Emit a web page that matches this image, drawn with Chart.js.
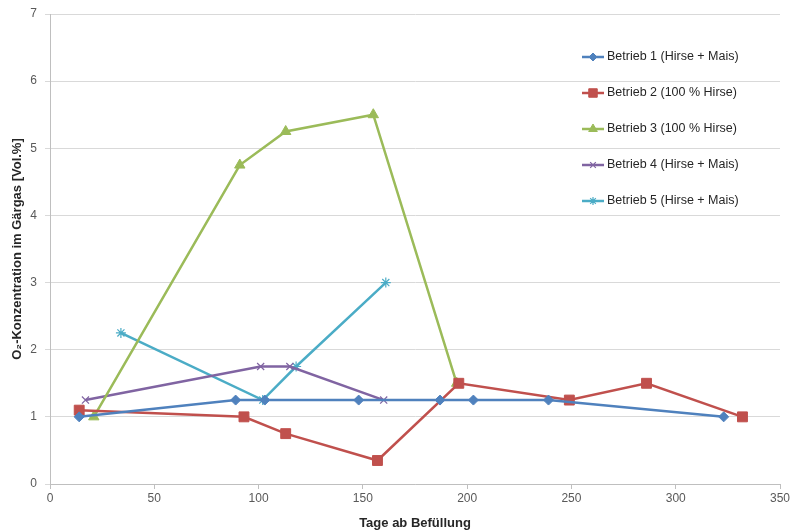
<!DOCTYPE html>
<html>
<head>
<meta charset="utf-8">
<script src="https://cdn.jsdelivr.net/npm/chart.js@4.4.1/dist/chart.umd.min.js"></script>
<style>
  html, body { margin: 0; padding: 0; background: #fff; }
  #wrap { width: 790px; height: 531px; position: relative; }
</style>
</head>
<body>
<div id="wrap"><canvas id="c"></canvas></div>
<script>
// Days since filling (x) and O2 concentration in vol.% (y) per plant
const seriesNames = [
  'Betrieb 1 (Hirse + Mais)',
  'Betrieb 2 (100 % Hirse)',
  'Betrieb 3 (100 % Hirse)',
  'Betrieb 4 (Hirse + Mais)',
  'Betrieb 5 (Hirse + Mais)'
];
const b1Days = [14, 89, 103, 148, 187, 203, 239, 323];
const b1O2   = [1.0, 1.25, 1.25, 1.25, 1.25, 1.25, 1.25, 1.0];
const b2Days = [14, 93, 113, 157, 196, 249, 286, 332];
const b2O2   = [1.1, 1.0, 0.75, 0.35, 1.5, 1.25, 1.5, 1.0];
const b3Days = [21, 91, 113, 155, 195];
const b3O2   = [1.0, 4.75, 5.25, 5.5, 1.5];
const b4Days = [17, 101, 115, 160];
const b4O2   = [1.25, 1.75, 1.75, 1.25];
const b5Days = [34, 102, 118, 161];
const b5O2   = [2.25, 1.25, 1.75, 3.0];
const xTicks = [0, 50, 100, 150, 200, 250, 300, 350];
const yTicks = [0, 1, 2, 3, 4, 5, 6, 7];

const colors = ['#4F81BD', '#C0504D', '#9BBB59', '#8064A2', '#4BACC6'];
const styles = ['rectRot', 'rect', 'triangle', 'crossRot', 'star'];
const radii  = [5, 7, 6, 5, 5];
const borderW = [1, 1, 1, 1.2, 1.2];

const pairs = (xs, ys) => xs.map((x, i) => ({ x: x, y: ys[i] }));
const allData = [
  pairs(b1Days, b1O2), pairs(b2Days, b2O2), pairs(b3Days, b3O2),
  pairs(b4Days, b4O2), pairs(b5Days, b5O2)
];

const datasets = allData.map((d, i) => ({
  label: seriesNames[i],
  data: d,
  showLine: true,
  borderColor: colors[i],
  backgroundColor: colors[i],
  borderWidth: 2.5,
  pointStyle: styles[i],
  pointRadius: radii[i],
  pointBorderWidth: borderW[i],
  pointBorderColor: colors[i],
  pointBackgroundColor: colors[i],
  tension: 0
}));

const FONT = "'Liberation Sans', Arial, sans-serif";

// Legend drawn inside the plot area, right side
const innerLegend = {
  id: 'innerLegend',
  afterDatasetsDraw(chart) {
    const ctx = chart.ctx;
    const x0 = 582, y0 = 57, step = 36;
    ctx.save();
    ctx.font = '12.5px ' + FONT;
    ctx.textBaseline = 'middle';
    seriesNames.forEach((name, i) => {
      const y = y0 + i * step;
      ctx.strokeStyle = colors[i];
      ctx.lineWidth = 2.5;
      ctx.beginPath();
      ctx.moveTo(x0, y);
      ctx.lineTo(x0 + 22, y);
      ctx.stroke();
      ctx.fillStyle = colors[i];
      ctx.strokeStyle = colors[i];
      ctx.lineWidth = borderW[i];
      Chart.helpers.drawPoint(ctx, {
        pointStyle: styles[i], radius: radii[i] - 1, rotation: 0, borderWidth: borderW[i]
      }, x0 + 11, y);
      ctx.fillStyle = '#262626';
      ctx.fillText(name, x0 + 25, y);
    });
    ctx.restore();
  }
};

new Chart(document.getElementById('c'), {
  type: 'scatter',
  data: { datasets: datasets },
  options: {
    responsive: true,
    maintainAspectRatio: false,
    animation: false,
    layout: { padding: { left: 0, right: 0, top: 0, bottom: 0 } },
    plugins: {
      legend: { display: false },
      tooltip: { enabled: false }
    },
    scales: {
      x: {
        type: 'linear',
        min: 0, max: 350,
        afterBuildTicks: (s) => { s.ticks = xTicks.map(v => ({ value: v })); },
        grid: { drawOnChartArea: false, drawTicks: true, tickLength: 5, color: '#BFBFBF' },
        border: { color: '#BFBFBF', width: 1 },
        ticks: { color: '#595959', font: { family: FONT, size: 12 }, padding: 2, maxRotation: 0 },
        title: {
          display: true, text: 'Tage ab Befüllung', color: '#262626',
          font: { family: FONT, size: 13, weight: 'bold' }, padding: { top: 1, bottom: 0 }
        },
        afterFit: (s) => { s.height = 47; s.paddingRight = 10; s.paddingLeft = 0; }
      },
      y: {
        type: 'linear',
        min: 0, max: 7,
        afterBuildTicks: (s) => { s.ticks = yTicks.map(v => ({ value: v })); },
        grid: { color: '#D9D9D9', lineWidth: 1, tickLength: 5 },
        border: { color: '#BFBFBF', width: 1 },
        ticks: { color: '#595959', font: { family: FONT, size: 12 }, padding: 8 },
        title: {
          display: true, text: 'O₂-Konzentration im Gärgas [Vol.%]', color: '#262626',
          font: { family: FONT, size: 13, weight: 'bold' }, padding: { top: 10, bottom: 4 }
        },
        afterFit: (s) => { s.width = 50; s.paddingTop = 14; s.paddingBottom = 0; }
      }
    }
  },
  plugins: [innerLegend]
});
</script>
</body>
</html>
